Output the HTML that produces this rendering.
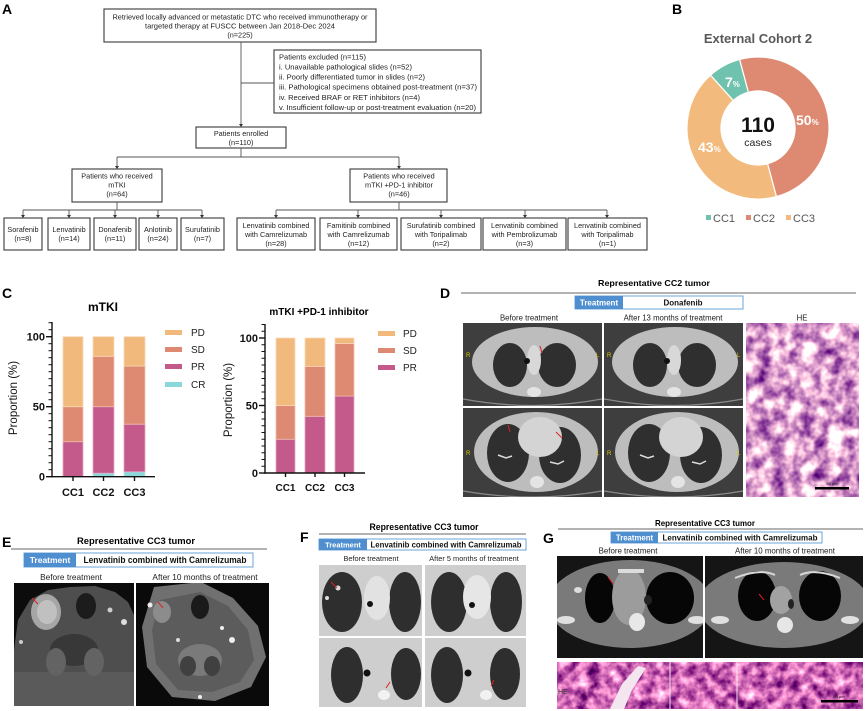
<!DOCTYPE html>
<html><head><meta charset="utf-8"><style>
html,body{margin:0;padding:0;background:#fff;}
svg{display:block;font-family:"Liberation Sans",Arial,sans-serif;}
</style></head><body>
<svg width="865" height="711" viewBox="0 0 865 711" xmlns="http://www.w3.org/2000/svg">
<defs>
<filter id="heD" x="0" y="0" width="1" height="1" filterUnits="objectBoundingBox" color-interpolation-filters="sRGB">
<feTurbulence type="fractalNoise" baseFrequency="0.07" numOctaves="3" seed="4"/>
<feColorMatrix type="matrix" values="-1.6 0 0 0 1.66  -1.9 0 0 0 1.57  -1.0 0 0 0 1.30  0 0 0 0 1"/>
</filter>
<filter id="heG" x="0" y="0" width="1" height="1" filterUnits="objectBoundingBox" color-interpolation-filters="sRGB">
<feTurbulence type="fractalNoise" baseFrequency="0.09" numOctaves="3" seed="9"/>
<feColorMatrix type="matrix" values="-1.5 0 0 0 1.55  -1.5 0 0 0 1.15  -1.0 0 0 0 1.2  0 0 0 0 1"/>
</filter>
<clipPath id="cD1"><rect x="463" y="323" width="139" height="83"/></clipPath>
<clipPath id="cD2"><rect x="604" y="323" width="139" height="83"/></clipPath>
<clipPath id="cD3"><rect x="463" y="408" width="139" height="89"/></clipPath>
<clipPath id="cD4"><rect x="604" y="408" width="139" height="89"/></clipPath>
<clipPath id="cE1"><rect x="14" y="583" width="120" height="123"/></clipPath>
<clipPath id="cE2"><rect x="136" y="583" width="133" height="123"/></clipPath>
<clipPath id="cF1"><rect x="319" y="565" width="103" height="71"/></clipPath>
<clipPath id="cF2"><rect x="425" y="565" width="101" height="71"/></clipPath>
<clipPath id="cF3"><rect x="319" y="638" width="103" height="69"/></clipPath>
<clipPath id="cF4"><rect x="425" y="638" width="101" height="69"/></clipPath>
<clipPath id="cG1"><rect x="557" y="556" width="146" height="102"/></clipPath>
<clipPath id="cG2"><rect x="705" y="556" width="158" height="102"/></clipPath>
</defs>

<!-- ================= PANEL A ================= -->
<text x="2" y="14" font-size="14" font-weight="bold">A</text>
<g fill="none" stroke="#3a3a3a" stroke-width="1.1">
<rect x="104" y="9" width="272" height="33"/>
<rect x="274" y="50" width="207" height="63"/>
<rect x="196" y="127" width="90" height="21"/>
<rect x="72" y="169" width="90" height="33"/>
<rect x="350" y="169" width="97" height="33"/>
<rect x="4" y="218" width="38" height="32"/>
<rect x="48" y="218" width="42" height="32"/>
<rect x="94" y="218" width="42" height="32"/>
<rect x="139" y="218" width="38" height="32"/>
<rect x="181" y="218" width="43" height="32"/>
<rect x="237" y="218" width="78" height="32"/>
<rect x="320" y="218" width="77" height="32"/>
<rect x="401" y="218" width="80" height="32"/>
<rect x="483" y="218" width="83" height="32"/>
<rect x="568" y="218" width="79" height="32"/>
</g>
<g stroke="#555" stroke-width="0.9" fill="none">
<line x1="241" y1="42" x2="241" y2="124"/>
<line x1="241" y1="83" x2="274" y2="83"/>
<line x1="241" y1="148" x2="241" y2="157"/>
<line x1="117" y1="157" x2="399" y2="157"/>
<line x1="117" y1="157" x2="117" y2="166"/>
<line x1="399" y1="157" x2="399" y2="166"/>
<line x1="117" y1="202" x2="117" y2="210"/>
<line x1="23" y1="210" x2="202" y2="210"/>
<line x1="399" y1="202" x2="399" y2="210"/>
<line x1="276" y1="210" x2="607" y2="210"/>
<line x1="23" y1="210" x2="23" y2="215"/><line x1="69" y1="210" x2="69" y2="215"/><line x1="115" y1="210" x2="115" y2="215"/><line x1="158" y1="210" x2="158" y2="215"/><line x1="202" y1="210" x2="202" y2="215"/>
<line x1="276" y1="210" x2="276" y2="215"/><line x1="358" y1="210" x2="358" y2="215"/><line x1="441" y1="210" x2="441" y2="215"/><line x1="525" y1="210" x2="525" y2="215"/><line x1="607" y1="210" x2="607" y2="215"/>
</g>
<g fill="#333">
<polygon points="239,124 243,124 241,127"/>
<polygon points="115,166 119,166 117,169"/><polygon points="397,166 401,166 399,169"/>
<polygon points="21,215 25,215 23,218"/><polygon points="67,215 71,215 69,218"/><polygon points="113,215 117,215 115,218"/><polygon points="156,215 160,215 158,218"/><polygon points="200,215 204,215 202,218"/>
<polygon points="274,215 278,215 276,218"/><polygon points="356,215 360,215 358,218"/><polygon points="439,215 443,215 441,218"/><polygon points="523,215 527,215 525,218"/><polygon points="605,215 609,215 607,218"/>
</g>
<g font-size="7.3" fill="#222" text-anchor="middle">
<text x="240" y="19.5" textLength="255" lengthAdjust="spacingAndGlyphs">Retrieved locally advanced or metastatic DTC who received immunotherapy or</text>
<text x="240" y="28.5" textLength="190" lengthAdjust="spacingAndGlyphs">targeted therapy at FUSCC between Jan 2018-Dec 2024</text>
<text x="240" y="37.5">(n=225)</text>
<text x="241" y="136">Patients enrolled</text>
<text x="241" y="145">(n=110)</text>
<text x="117" y="178.5">Patients who received</text>
<text x="117" y="187.5">mTKI</text>
<text x="117" y="196.5">(n=64)</text>
<text x="399" y="178.5">Patients who received</text>
<text x="399" y="187.5">mTKI +PD-1 inhibitor</text>
<text x="399" y="196.5">(n=46)</text>
<text x="23" y="232">Sorafenib</text><text x="23" y="241">(n=8)</text>
<text x="69" y="232">Lenvatinib</text><text x="69" y="241">(n=14)</text>
<text x="115" y="232">Donafenib</text><text x="115" y="241">(n=11)</text>
<text x="158" y="232">Anlotinib</text><text x="158" y="241">(n=24)</text>
<text x="202.5" y="232">Surufatinib</text><text x="202.5" y="241">(n=7)</text>
<text x="276" y="228">Lenvatinib combined</text><text x="276" y="237">with Camrelizumab</text><text x="276" y="246">(n=28)</text>
<text x="358.5" y="228">Famitinib combined</text><text x="358.5" y="237">with Camrelizumab</text><text x="358.5" y="246">(n=12)</text>
<text x="441" y="228">Surufatinib combined</text><text x="441" y="237">with Toripalimab</text><text x="441" y="246">(n=2)</text>
<text x="524.5" y="228">Lenvatinib combined</text><text x="524.5" y="237">with Pembrolizumab</text><text x="524.5" y="246">(n=3)</text>
<text x="607.5" y="228">Lenvatinib combined</text><text x="607.5" y="237">with Toripalimab</text><text x="607.5" y="246">(n=1)</text>
</g>
<g font-size="7.3" fill="#222">
<text x="279" y="59.5" textLength="87" lengthAdjust="spacingAndGlyphs">Patients excluded (n=115)</text>
<text x="279" y="69.5" textLength="133" lengthAdjust="spacingAndGlyphs">i. Unavailable pathological slides (n=52)</text>
<text x="279" y="79.5" textLength="146" lengthAdjust="spacingAndGlyphs">ii. Poorly differentiated tumor in slides (n=2)</text>
<text x="279" y="89.5" textLength="198" lengthAdjust="spacingAndGlyphs">iii. Pathological specimens obtained post-treatment (n=37)</text>
<text x="279" y="100" textLength="141" lengthAdjust="spacingAndGlyphs">iv. Received BRAF or RET inhibitors (n=4)</text>
<text x="279" y="110" textLength="197" lengthAdjust="spacingAndGlyphs">v. Insufficient follow-up or post-treatment evaluation (n=20)</text>
</g>

<!-- ================= PANEL B ================= -->
<text x="672" y="14" font-size="14" font-weight="bold">B</text>
<text x="758" y="43" font-size="13" font-weight="bold" fill="#595959" text-anchor="middle">External Cohort 2</text>
<g stroke="#fff" stroke-width="1.2">
<path d="M710.49,75.24 A71,71 0 0 1 739.62,59.42 L748.42,92.26 A37,37 0 0 0 733.24,100.51 Z" fill="#6FC2AE"/>
<path d="M739.62,59.42 A71,71 0 1 1 776.38,196.58 L767.58,163.74 A37,37 0 1 0 748.42,92.26 Z" fill="#DE8A72"/>
<path d="M776.38,196.58 A71,71 0 0 1 710.49,75.24 L733.24,100.51 A37,37 0 0 0 767.58,163.74 Z" fill="#F2BA7D"/>
</g>
<g fill="#fff" font-weight="bold">
<text x="725" y="87" font-size="14">7<tspan font-size="8">%</tspan></text>
<text x="796" y="125" font-size="14">50<tspan font-size="8">%</tspan></text>
<text x="698" y="152" font-size="14">43<tspan font-size="8">%</tspan></text>
</g>
<text x="758" y="132" font-size="21" font-weight="bold" text-anchor="middle" fill="#111">110</text>
<text x="758" y="146" font-size="10.5" text-anchor="middle" fill="#222">cases</text>
<rect x="706" y="215" width="5" height="5" fill="#6FC2AE"/>
<text x="713" y="222" font-size="11" fill="#555">CC1</text>
<rect x="746" y="215" width="5" height="5" fill="#DE8A72"/>
<text x="753" y="222" font-size="11" fill="#555">CC2</text>
<rect x="786" y="215" width="5" height="5" fill="#F2BA7D"/>
<text x="793" y="222" font-size="11" fill="#555">CC3</text>

<!-- ================= PANEL C ================= -->
<text x="2" y="298" font-size="14" font-weight="bold">C</text>
<text x="103" y="311" font-size="12" font-weight="bold" text-anchor="middle">mTKI</text>
<text x="319" y="315" font-size="10" font-weight="bold" text-anchor="middle">mTKI +PD-1 inhibitor</text>
<!-- left bars -->
<g stroke-width="0.8">
<rect x="63" y="441.7" width="20" height="35" fill="#C45A8C" stroke="#E7A3C3"/>
<rect x="63" y="406.7" width="20" height="35" fill="#DE8A72" stroke="#F0BFAE"/>
<rect x="63" y="336.7" width="20" height="70" fill="#F2B97C" stroke="#F9D9B6"/>
<rect x="93" y="473.2" width="21" height="3.5" fill="#8AD8DA" stroke="#BDEBEC"/>
<rect x="93" y="406.7" width="21" height="66.5" fill="#C45A8C" stroke="#E7A3C3"/>
<rect x="93" y="356.3" width="21" height="50.4" fill="#DE8A72" stroke="#F0BFAE"/>
<rect x="93" y="336.7" width="21" height="19.6" fill="#F2B97C" stroke="#F9D9B6"/>
<rect x="124" y="471.8" width="21" height="4.9" fill="#8AD8DA" stroke="#BDEBEC"/>
<rect x="124" y="424.2" width="21" height="47.6" fill="#C45A8C" stroke="#E7A3C3"/>
<rect x="124" y="366.1" width="21" height="58.1" fill="#DE8A72" stroke="#F0BFAE"/>
<rect x="124" y="336.7" width="21" height="29.4" fill="#F2B97C" stroke="#F9D9B6"/>
</g>
<g stroke="#111" stroke-width="1.4" fill="none">
<line x1="52" y1="322" x2="52" y2="477.4"/>
<line x1="51.3" y1="476.7" x2="155" y2="476.7"/>
<line x1="46" y1="476.7" x2="52" y2="476.7"/><line x1="46" y1="406.7" x2="52" y2="406.7"/><line x1="46" y1="336.7" x2="52" y2="336.7"/>
<line x1="73" y1="476.7" x2="73" y2="481"/><line x1="103.5" y1="476.7" x2="103.5" y2="481"/><line x1="134.5" y1="476.7" x2="134.5" y2="481"/>
</g>
<g stroke="#111" stroke-width="1">
<line x1="48.5" y1="469.7" x2="52" y2="469.7"/><line x1="48.5" y1="462.7" x2="52" y2="462.7"/><line x1="48.5" y1="455.7" x2="52" y2="455.7"/><line x1="48.5" y1="448.7" x2="52" y2="448.7"/><line x1="48.5" y1="441.7" x2="52" y2="441.7"/><line x1="48.5" y1="434.7" x2="52" y2="434.7"/><line x1="48.5" y1="427.7" x2="52" y2="427.7"/><line x1="48.5" y1="420.7" x2="52" y2="420.7"/><line x1="48.5" y1="413.7" x2="52" y2="413.7"/>
<line x1="48.5" y1="399.7" x2="52" y2="399.7"/><line x1="48.5" y1="392.7" x2="52" y2="392.7"/><line x1="48.5" y1="385.7" x2="52" y2="385.7"/><line x1="48.5" y1="378.7" x2="52" y2="378.7"/><line x1="48.5" y1="371.7" x2="52" y2="371.7"/><line x1="48.5" y1="364.7" x2="52" y2="364.7"/><line x1="48.5" y1="357.7" x2="52" y2="357.7"/><line x1="48.5" y1="350.7" x2="52" y2="350.7"/><line x1="48.5" y1="343.7" x2="52" y2="343.7"/>
<line x1="48.5" y1="329.7" x2="52" y2="329.7"/><line x1="48.5" y1="322.7" x2="52" y2="322.7"/>
</g>
<g font-size="11" font-weight="bold" text-anchor="end" fill="#111">
<text x="45" y="340.7">100</text><text x="45" y="410.7">50</text><text x="45" y="480.7">0</text>
</g>
<g font-size="11" font-weight="bold" text-anchor="middle" fill="#111">
<text x="73" y="496">CC1</text><text x="103.5" y="496">CC2</text><text x="134.5" y="496">CC3</text>
</g>
<text transform="translate(17,398) rotate(-90)" font-size="11.5" text-anchor="middle" fill="#111">Proportion (%)</text>
<rect x="165" y="330" width="17" height="5" fill="#F2B97C"/><text x="191" y="336" font-size="10" fill="#222">PD</text>
<rect x="165" y="347" width="17" height="5" fill="#DE8A72"/><text x="191" y="353" font-size="10" fill="#222">SD</text>
<rect x="165" y="364" width="17" height="5" fill="#C45A8C"/><text x="191" y="370" font-size="10" fill="#222">PR</text>
<rect x="165" y="382" width="17" height="5" fill="#8AD8DA"/><text x="191" y="388" font-size="10" fill="#222">CR</text>

<!-- right bars -->
<g stroke-width="0.8">
<rect x="276" y="439.25" width="19" height="33.75" fill="#C45A8C" stroke="#E7A3C3"/>
<rect x="276" y="405.5" width="19" height="33.75" fill="#DE8A72" stroke="#F0BFAE"/>
<rect x="276" y="338" width="19" height="67.5" fill="#F2B97C" stroke="#F9D9B6"/>
<rect x="305" y="416.3" width="20" height="56.7" fill="#C45A8C" stroke="#E7A3C3"/>
<rect x="305" y="366.35" width="20" height="49.95" fill="#DE8A72" stroke="#F0BFAE"/>
<rect x="305" y="338" width="20" height="28.35" fill="#F2B97C" stroke="#F9D9B6"/>
<rect x="335" y="396.05" width="19" height="76.95" fill="#C45A8C" stroke="#E7A3C3"/>
<rect x="335" y="343.4" width="19" height="52.65" fill="#DE8A72" stroke="#F0BFAE"/>
<rect x="335" y="338" width="19" height="5.4" fill="#F2B97C" stroke="#F9D9B6"/>
</g>
<g stroke="#111" stroke-width="1.4" fill="none">
<line x1="265" y1="324" x2="265" y2="473.7"/>
<line x1="264.3" y1="473" x2="365" y2="473"/>
<line x1="259" y1="473" x2="265" y2="473"/><line x1="259" y1="405.5" x2="265" y2="405.5"/><line x1="259" y1="338" x2="265" y2="338"/>
<line x1="285.5" y1="473" x2="285.5" y2="477"/><line x1="315" y1="473" x2="315" y2="477"/><line x1="344.5" y1="473" x2="344.5" y2="477"/>
</g>
<g stroke="#111" stroke-width="1">
<line x1="261.5" y1="466.25" x2="265" y2="466.25"/><line x1="261.5" y1="459.5" x2="265" y2="459.5"/><line x1="261.5" y1="452.75" x2="265" y2="452.75"/><line x1="261.5" y1="446" x2="265" y2="446"/><line x1="261.5" y1="439.25" x2="265" y2="439.25"/><line x1="261.5" y1="432.5" x2="265" y2="432.5"/><line x1="261.5" y1="425.75" x2="265" y2="425.75"/><line x1="261.5" y1="419" x2="265" y2="419"/><line x1="261.5" y1="412.25" x2="265" y2="412.25"/>
<line x1="261.5" y1="398.75" x2="265" y2="398.75"/><line x1="261.5" y1="392" x2="265" y2="392"/><line x1="261.5" y1="385.25" x2="265" y2="385.25"/><line x1="261.5" y1="378.5" x2="265" y2="378.5"/><line x1="261.5" y1="371.75" x2="265" y2="371.75"/><line x1="261.5" y1="365" x2="265" y2="365"/><line x1="261.5" y1="358.25" x2="265" y2="358.25"/><line x1="261.5" y1="351.5" x2="265" y2="351.5"/><line x1="261.5" y1="344.75" x2="265" y2="344.75"/>
<line x1="261.5" y1="331.25" x2="265" y2="331.25"/><line x1="261.5" y1="324.5" x2="265" y2="324.5"/>
</g>
<g font-size="11" font-weight="bold" text-anchor="end" fill="#111">
<text x="258" y="342">100</text><text x="258" y="409.5">50</text><text x="258" y="477">0</text>
</g>
<g font-size="10" font-weight="bold" text-anchor="middle" fill="#111">
<text x="285.5" y="491">CC1</text><text x="315" y="491">CC2</text><text x="344.5" y="491">CC3</text>
</g>
<text transform="translate(232,400) rotate(-90)" font-size="11.5" text-anchor="middle" fill="#111">Proportion (%)</text>
<rect x="378" y="331" width="17" height="5" fill="#F2B97C"/><text x="403" y="337" font-size="10" fill="#222">PD</text>
<rect x="378" y="348" width="17" height="5" fill="#DE8A72"/><text x="403" y="354" font-size="10" fill="#222">SD</text>
<rect x="378" y="365" width="17" height="5" fill="#C45A8C"/><text x="403" y="371" font-size="10" fill="#222">PR</text>

<!-- ================= PANEL D ================= -->
<text x="440" y="298" font-size="14" font-weight="bold">D</text>
<text x="654" y="286" font-size="8.5" font-weight="bold" text-anchor="middle" textLength="112" lengthAdjust="spacingAndGlyphs">Representative CC2 tumor</text>
<line x1="461" y1="293" x2="856" y2="293" stroke="#9a9a9a" stroke-width="1.5"/>
<rect x="575" y="296" width="168" height="13" fill="#fff" stroke="#5B9BD5" stroke-width="0.9"/>
<rect x="575" y="296" width="48" height="13" fill="#4F8FD0"/>
<text x="599" y="305.5" font-size="8" font-weight="bold" fill="#fff" text-anchor="middle">Treatment</text>
<text x="683" y="305.5" font-size="8" font-weight="bold" fill="#111" text-anchor="middle">Donafenib</text>
<g font-size="7.8" fill="#222" text-anchor="middle">
<text x="529" y="320.5">Before treatment</text>
<text x="673" y="320.5">After 13 months of treatment</text>
<text x="802" y="320.5">HE</text>
</g>
<!-- D CT 1 -->
<g clip-path="url(#cD1)">
<rect x="463" y="323" width="139" height="83" fill="#3e3e3e"/>
<path d="M463,399 Q533,412 602,399" stroke="#8a8a8a" fill="none" stroke-width="1.2"/>
<ellipse cx="535" cy="362" rx="63" ry="35" fill="#bdbdbd"/>
<ellipse cx="510" cy="365" rx="17" ry="22" fill="#2f2f2f"/>
<ellipse cx="557" cy="365" rx="19" ry="22" fill="#2f2f2f"/>
<ellipse cx="534" cy="360" rx="7" ry="15" fill="#d8d8d8"/>
<circle cx="527" cy="361" r="3" fill="#121212"/>
<ellipse cx="534" cy="392" rx="7" ry="5" fill="#e4e4e4"/>
<text x="466" y="357" font-size="6" fill="#d8c800">R</text><text x="596" y="357" font-size="6" fill="#d8c800">L</text>
<line x1="540" y1="346" x2="542" y2="353" stroke="#e02020" stroke-width="1"/>
</g>
<!-- D CT 2 -->
<g clip-path="url(#cD2)">
<rect x="604" y="323" width="139" height="83" fill="#3e3e3e"/>
<path d="M604,399 Q674,412 743,399" stroke="#8a8a8a" fill="none" stroke-width="1.2"/>
<ellipse cx="675" cy="362" rx="63" ry="35" fill="#bdbdbd"/>
<ellipse cx="650" cy="365" rx="17" ry="22" fill="#2f2f2f"/>
<ellipse cx="697" cy="365" rx="19" ry="22" fill="#2f2f2f"/>
<ellipse cx="674" cy="360" rx="7" ry="15" fill="#d8d8d8"/>
<circle cx="667" cy="361" r="3" fill="#121212"/>
<ellipse cx="674" cy="392" rx="7" ry="5" fill="#e4e4e4"/>
<text x="607" y="357" font-size="6" fill="#d8c800">R</text><text x="737" y="357" font-size="6" fill="#d8c800">L</text>
</g>
<!-- D CT 3 -->
<g clip-path="url(#cD3)">
<rect x="463" y="408" width="139" height="89" fill="#3e3e3e"/>
<path d="M463,491 Q533,503 602,491" stroke="#8a8a8a" fill="none" stroke-width="1.2"/>
<ellipse cx="536" cy="452" rx="62" ry="40" fill="#bdbdbd"/>
<ellipse cx="508" cy="453" rx="21" ry="29" fill="#2f2f2f"/>
<ellipse cx="560" cy="455" rx="21" ry="28" fill="#2f2f2f"/>
<ellipse cx="540" cy="437" rx="22" ry="20" fill="#d4d4d4"/>
<ellipse cx="537" cy="482" rx="7" ry="6" fill="#e4e4e4"/>
<path d="M498,455 l8,3 l6,-2 M550,462 l8,2 l6,-3" stroke="#ddd" stroke-width="1.5" fill="none"/>
<text x="466" y="455" font-size="6" fill="#d8c800">R</text><text x="596" y="455" font-size="6" fill="#d8c800">L</text>
<line x1="508" y1="425" x2="510" y2="432" stroke="#e02020"/><line x1="556" y1="432" x2="562" y2="438" stroke="#e02020"/>
</g>
<!-- D CT 4 -->
<g clip-path="url(#cD4)">
<rect x="604" y="408" width="139" height="89" fill="#3e3e3e"/>
<path d="M604,491 Q674,503 743,491" stroke="#8a8a8a" fill="none" stroke-width="1.2"/>
<ellipse cx="677" cy="452" rx="62" ry="40" fill="#bdbdbd"/>
<ellipse cx="649" cy="453" rx="21" ry="29" fill="#2f2f2f"/>
<ellipse cx="701" cy="455" rx="21" ry="28" fill="#2f2f2f"/>
<ellipse cx="681" cy="437" rx="22" ry="20" fill="#d4d4d4"/>
<ellipse cx="678" cy="482" rx="7" ry="6" fill="#e4e4e4"/>
<path d="M640,455 l8,3 l6,-2 M692,462 l8,2 l6,-3" stroke="#ddd" stroke-width="1.5" fill="none"/>
<text x="607" y="455" font-size="6" fill="#d8c800">R</text><text x="737" y="455" font-size="6" fill="#d8c800">L</text>
</g>
<!-- D HE -->
<rect x="746" y="323" width="113" height="174" filter="url(#heD)"/>
<rect x="815" y="487" width="34" height="2.5" fill="#000"/>
<text x="832" y="485" font-size="4" fill="#000" text-anchor="middle">50 μm</text>

<!-- ================= PANEL E ================= -->
<text x="2" y="547" font-size="14" font-weight="bold">E</text>
<text x="136" y="544" font-size="9.5" font-weight="bold" text-anchor="middle" textLength="118" lengthAdjust="spacingAndGlyphs">Representative CC3 tumor</text>
<line x1="11" y1="549" x2="267" y2="549" stroke="#9a9a9a" stroke-width="1.5"/>
<rect x="24" y="553" width="229" height="14" fill="#fff" stroke="#5B9BD5" stroke-width="0.9"/>
<rect x="24" y="553" width="52" height="14" fill="#4F8FD0"/>
<text x="50" y="563" font-size="8.5" font-weight="bold" fill="#fff" text-anchor="middle">Treatment</text>
<text x="165" y="563" font-size="8.8" font-weight="bold" fill="#111" text-anchor="middle" textLength="163" lengthAdjust="spacingAndGlyphs">Lenvatinib combined with Camrelizumab</text>
<g font-size="8.3" fill="#222" text-anchor="middle">
<text x="71" y="580">Before treatment</text>
<text x="205" y="580">After 10 months of treatment</text>
</g>
<g clip-path="url(#cE1)">
<rect x="14" y="583" width="120" height="123" fill="#0c0c0c"/>
<polygon points="14,650 18,620 30,600 48,590 70,587 95,586 115,592 128,602 134,615 134,706 14,706" fill="#4e4e4e"/>
<rect x="14" y="672" width="120" height="34" fill="#5a5a5a"/>
<ellipse cx="74" cy="650" rx="24" ry="16" fill="#383838"/>
<ellipse cx="56" cy="662" rx="10" ry="14" fill="#636363"/>
<ellipse cx="94" cy="662" rx="10" ry="14" fill="#636363"/>
<ellipse cx="86" cy="606" rx="10" ry="13" fill="#1c1c1c"/>
<ellipse cx="46" cy="612" rx="15" ry="18" fill="#a6a6a6"/>
<ellipse cx="47" cy="612" rx="10" ry="12" fill="#c0c0c0"/>
<circle cx="124" cy="622" r="3" fill="#ddd"/><circle cx="21" cy="642" r="2" fill="#ccc"/><circle cx="110" cy="610" r="2.5" fill="#ccc"/>
<line x1="32" y1="598" x2="38" y2="604" stroke="#e02020"/>
</g>
<g clip-path="url(#cE2)">
<rect x="136" y="583" width="133" height="123" fill="#0a0a0a"/>
<polygon points="154,587 201,582 233,598 258,626 266,657 251,687 215,701 172,697 147,667 142,627" fill="#707070"/>
<polygon points="160,600 200,592 228,606 248,630 254,660 240,682 212,692 178,690 156,664 152,630" fill="#5c5c5c"/>
<ellipse cx="200" cy="607" rx="9" ry="12" fill="#1a1a1a"/>
<ellipse cx="200" cy="660" rx="22" ry="16" fill="#7a7a7a"/>
<ellipse cx="188" cy="666" rx="8" ry="10" fill="#404040"/><ellipse cx="212" cy="666" rx="8" ry="10" fill="#404040"/>
<ellipse cx="162" cy="612" rx="9" ry="11" fill="#8c8c8c"/>
<circle cx="150" cy="605" r="2.5" fill="#eee"/><circle cx="232" cy="640" r="3" fill="#eee"/><circle cx="222" cy="628" r="2" fill="#eee"/><circle cx="178" cy="640" r="2" fill="#ddd"/><circle cx="200" cy="697" r="2" fill="#eee"/>
<line x1="158" y1="602" x2="163" y2="608" stroke="#e02020"/>
</g>

<!-- ================= PANEL F ================= -->
<text x="300" y="542" font-size="14" font-weight="bold">F</text>
<text x="424" y="530" font-size="8.8" font-weight="bold" text-anchor="middle" textLength="109" lengthAdjust="spacingAndGlyphs">Representative CC3 tumor</text>
<line x1="319" y1="534" x2="526" y2="534" stroke="#9a9a9a" stroke-width="1.5"/>
<rect x="319" y="539" width="207" height="11" fill="#fff" stroke="#5B9BD5" stroke-width="0.9"/>
<rect x="319" y="539" width="48" height="11" fill="#4F8FD0"/>
<text x="343" y="547.5" font-size="7.5" font-weight="bold" fill="#fff" text-anchor="middle">Treatment</text>
<text x="446" y="547.5" font-size="8" font-weight="bold" fill="#111" text-anchor="middle" textLength="151" lengthAdjust="spacingAndGlyphs">Lenvatinib combined with Camrelizumab</text>
<g font-size="7.4" fill="#222" text-anchor="middle">
<text x="371" y="561">Before treatment</text>
<text x="474" y="561">After 5 months of treatment</text>
</g>
<g clip-path="url(#cF1)">
<rect x="319" y="565" width="103" height="71" fill="#cecece"/>
<ellipse cx="342" cy="602" rx="20" ry="30" fill="#2e2e2e"/>
<ellipse cx="405" cy="602" rx="16" ry="30" fill="#2e2e2e"/>
<ellipse cx="377" cy="598" rx="13" ry="22" fill="#e2e2e2"/>
<circle cx="370" cy="604" r="3" fill="#111"/>
<circle cx="338" cy="588" r="2.5" fill="#ddd"/><circle cx="327" cy="598" r="2" fill="#ddd"/>
<line x1="331" y1="582" x2="337" y2="588" stroke="#e02020"/>
</g>
<g clip-path="url(#cF2)">
<rect x="425" y="565" width="101" height="71" fill="#cecece"/>
<ellipse cx="449" cy="602" rx="18" ry="30" fill="#2e2e2e"/>
<ellipse cx="506" cy="602" rx="16" ry="30" fill="#2e2e2e"/>
<ellipse cx="477" cy="597" rx="14" ry="22" fill="#e6e6e6"/>
<circle cx="472" cy="605" r="3" fill="#111"/>
</g>
<g clip-path="url(#cF3)">
<rect x="319" y="638" width="103" height="69" fill="#cecece"/>
<ellipse cx="347" cy="675" rx="16" ry="28" fill="#2e2e2e"/>
<ellipse cx="406" cy="674" rx="15" ry="26" fill="#2e2e2e"/>
<circle cx="367" cy="673" r="3.5" fill="#111"/>
<ellipse cx="384" cy="695" rx="6" ry="5" fill="#f2f2f2"/>
<line x1="390" y1="682" x2="386" y2="688" stroke="#e02020"/>
</g>
<g clip-path="url(#cF4)">
<rect x="425" y="638" width="101" height="69" fill="#cecece"/>
<ellipse cx="447" cy="675" rx="16" ry="28" fill="#2e2e2e"/>
<ellipse cx="505" cy="674" rx="15" ry="26" fill="#2e2e2e"/>
<circle cx="468" cy="673" r="3.5" fill="#111"/>
<ellipse cx="486" cy="695" rx="6" ry="5" fill="#f2f2f2"/>
<line x1="494" y1="680" x2="491" y2="686" stroke="#e02020"/>
</g>

<!-- ================= PANEL G ================= -->
<text x="543" y="543" font-size="14" font-weight="bold">G</text>
<text x="705" y="526" font-size="8.3" font-weight="bold" text-anchor="middle" textLength="100" lengthAdjust="spacingAndGlyphs">Representative CC3 tumor</text>
<line x1="558" y1="529" x2="863" y2="529" stroke="#9a9a9a" stroke-width="1.5"/>
<rect x="611" y="532" width="211" height="11" fill="#fff" stroke="#5B9BD5" stroke-width="0.9"/>
<rect x="611" y="532" width="47" height="11" fill="#4F8FD0"/>
<text x="634.5" y="540.5" font-size="7.8" font-weight="bold" fill="#fff" text-anchor="middle">Treatment</text>
<text x="740" y="540.5" font-size="8.2" font-weight="bold" fill="#111" text-anchor="middle" textLength="155" lengthAdjust="spacingAndGlyphs">Lenvatinib combined with Camrelizumab</text>
<g font-size="7.9" fill="#222" text-anchor="middle">
<text x="628" y="553.5">Before treatment</text>
<text x="785" y="553.5">After 10 months of treatment</text>
</g>
<g clip-path="url(#cG1)">
<rect x="557" y="556" width="146" height="102" fill="#151515"/>
<ellipse cx="630" cy="604" rx="82" ry="44" fill="#7a7a7a"/>
<ellipse cx="600" cy="598" rx="15" ry="25" fill="#060606"/>
<ellipse cx="670" cy="598" rx="24" ry="26" fill="#060606"/>
<ellipse cx="629" cy="597" rx="17" ry="28" fill="#9c9c9c"/>
<ellipse cx="648" cy="600" rx="4" ry="5" fill="#222"/>
<ellipse cx="637" cy="622" rx="8" ry="9" fill="#e8e8e8"/>
<rect x="618" y="569" width="26" height="4" fill="#dcdcdc"/>
<ellipse cx="566" cy="620" rx="9" ry="4" fill="#e0e0e0"/>
<ellipse cx="697" cy="620" rx="9" ry="4" fill="#e0e0e0"/>
<ellipse cx="578" cy="590" rx="4" ry="3" fill="#ddd"/>
<line x1="608" y1="577" x2="613" y2="584" stroke="#e02020"/>
</g>
<g clip-path="url(#cG2)">
<rect x="705" y="556" width="158" height="102" fill="#151515"/>
<ellipse cx="784" cy="605" rx="86" ry="43" fill="#7a7a7a"/>
<ellipse cx="757" cy="596" rx="19" ry="25" fill="#060606"/>
<ellipse cx="820" cy="596" rx="21" ry="25" fill="#060606"/>
<ellipse cx="781" cy="600" rx="11" ry="14" fill="#a2a2a2"/>
<ellipse cx="791" cy="604" rx="3" ry="5" fill="#222"/>
<ellipse cx="785" cy="625" rx="8" ry="8" fill="#e6e6e6"/>
<ellipse cx="720" cy="620" rx="9" ry="4" fill="#e0e0e0"/>
<ellipse cx="850" cy="620" rx="9" ry="4" fill="#e0e0e0"/>
<path d="M735,578 Q760,568 775,575 M800,575 Q815,568 840,578" stroke="#d8d8d8" stroke-width="2" fill="none"/>
<line x1="759" y1="594" x2="764" y2="600" stroke="#e02020"/>
</g>
<rect x="557" y="662" width="306" height="47" filter="url(#heG)"/>
<polygon points="610,709 622,684 638,666 646,668 632,690 624,709" fill="#f4e6ef"/>
<line x1="670" y1="662" x2="670" y2="709" stroke="#f4e6ef" stroke-width="1"/>
<line x1="737" y1="662" x2="737" y2="709" stroke="#f4e6ef" stroke-width="1"/>
<text x="558" y="694" font-size="7" fill="#333">HE</text>
<rect x="821" y="700" width="37" height="2.5" fill="#000"/>
<text x="839" y="698" font-size="4" fill="#000" text-anchor="middle">50 μm</text>
</svg>
</body></html>
